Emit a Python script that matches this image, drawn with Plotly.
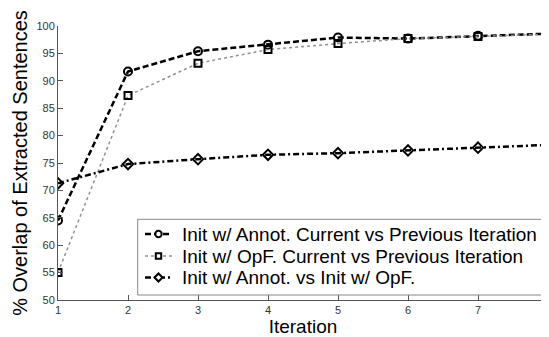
import plotly.graph_objects as go

iterations = [1, 2, 3, 4, 5, 6, 7, 8]
annot_cur_vs_prev = [64.5, 91.7, 95.4, 96.6, 97.9, 97.7, 98.2, 98.6]
opf_cur_vs_prev = [55.0, 87.3, 93.2, 95.7, 96.8, 97.7, 98.1, 98.5]
annot_vs_opf = [71.3, 74.8, 75.7, 76.5, 76.8, 77.3, 77.8, 78.3]
names = ["Init w/ Annot. Current vs Previous Iteration",
         "Init w/ OpF. Current vs Previous Iteration",
         "Init w/ Annot. vs Init w/ OpF."]
y_ticks = [50, 55, 60, 65, 70, 75, 80, 85, 90, 95, 100]

FONT = "Liberation Sans, Arial, sans-serif"

styles = [
    dict(line=dict(color="black", width=2.5, dash="6px,3px"), symbol="circle-open", size=8),
    dict(line=dict(color="#909090", width=1.5, dash="dot"), symbol="square-open", size=7),
    dict(line=dict(color="black", width=2.5, dash="6px,3px,2px,3px"), symbol="diamond-open", size=8),
]
series = [annot_cur_vs_prev, opf_cur_vs_prev, annot_vs_opf]

fig = go.Figure()
for name, ys, st in zip(names, series, styles):
    fig.add_trace(go.Scatter(
        x=iterations, y=ys, name=name, mode="lines+markers", showlegend=False,
        line=st["line"],
        marker=dict(symbol=st["symbol"], size=st["size"], color="black", line=dict(width=2)),
    ))

# page body has an 8px margin, so the figure is drawn 8px smaller
W, H = 541, 329
ML, MR, MT, MB = 50, 1, 18, 37
PW, PH = W - ML - MR, H - MT - MB


def px_x(p):
    return (p - ML) / PW


def px_y(p):
    return (H - MB - p) / PH


# hand-built legend box (MATLAB style, tight rows)
box_l, box_r, box_t, box_b = 129.7, 538.0, 211.3, 287.0
rows = [226.0, 248.0, 269.5]
samp_l, samp_r, samp_m, text_l = 137.0, 164.0, 150.5, 172.0

shapes = [dict(type="rect", xref="paper", yref="paper",
               x0=px_x(box_l), x1=px_x(box_r), y0=px_y(box_b), y1=px_y(box_t),
               line=dict(color="#888888", width=1), fillcolor="white", layer="above")]
annotations = []
for name, st, r in zip(names, styles, rows):
    shapes.append(dict(type="line", xref="paper", yref="paper",
                       x0=px_x(samp_l), x1=px_x(samp_r), y0=px_y(r), y1=px_y(r),
                       line=st["line"], layer="above"))
    s = st["size"] / 2 - 0.8
    common = dict(xref="paper", yref="paper", xsizemode="pixel", ysizemode="pixel",
                  xanchor=px_x(samp_m), yanchor=px_y(r),
                  line=dict(color="black", width=2), fillcolor="white", layer="above")
    if st["symbol"].startswith("circle"):
        shapes.append(dict(type="circle", x0=-s, x1=s, y0=-s, y1=s, **common))
    elif st["symbol"].startswith("square"):
        shapes.append(dict(type="rect", x0=-s, x1=s, y0=-s, y1=s, **common))
    else:
        d = s + 0.8
        shapes.append(dict(type="path", path=f"M {-d} 0 L 0 {d} L {d} 0 L 0 {-d} Z", **common))
    annotations.append(dict(x=px_x(text_l), y=px_y(r), xref="paper", yref="paper",
                            xanchor="left", yanchor="middle", showarrow=False, text=name,
                            font=dict(size=19, family=FONT, color="black")))

fig.update_layout(
    width=W, height=H,
    margin=dict(l=ML, r=MR, t=MT, b=MB, autoexpand=False),
    paper_bgcolor="white", plot_bgcolor="white",
    font=dict(family=FONT, color="black"),
    showlegend=False,
    shapes=shapes, annotations=annotations,
)
fig.update_xaxes(
    range=[1, 8], tickvals=iterations, showgrid=False, zeroline=False,
    showline=True, linecolor="#555555", linewidth=1,
    ticks="inside", ticklen=5, tickcolor="#555555",
    tickfont=dict(size=11, color="#333333"), automargin=False,
    title=dict(text="Iteration", font=dict(size=19, color="black"), standoff=2),
)
fig.update_yaxes(
    range=[50, 100], tickvals=y_ticks, showgrid=False, zeroline=False,
    showline=True, linecolor="#555555", linewidth=1,
    ticks="inside", ticklen=5, tickcolor="#555555",
    tickfont=dict(size=11, color="#333333"), automargin=False,
    title=dict(text="% Overlap of Extracted Sentences", font=dict(size=20, color="black"), standoff=3),
)

fig.write_html("out.html")
